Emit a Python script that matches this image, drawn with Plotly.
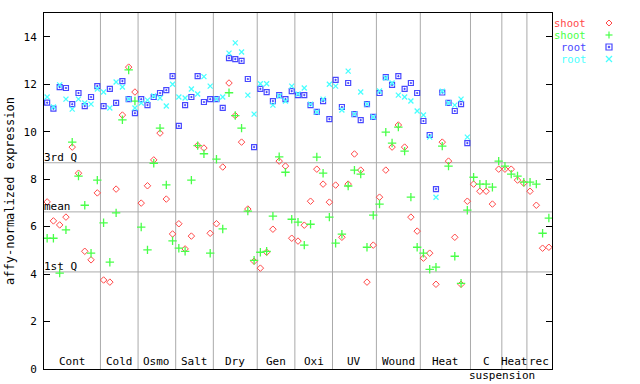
import plotly.graph_objects as go
import numpy as np

# ---------------- data ----------------
group_names = ["Cont", "Cold", "Osmo", "Salt", "Dry", "Gen", "Oxi", "UV",
               "Wound", "Heat", "C", "Heat", "rec"]
group_sizes = [9, 6, 6, 6, 7, 6, 6, 7, 7, 8, 5, 4, 4]
group_sublabel = {"C": "suspension"}

shoot_rep1 = [7.04, 6.24, 6.07, 6.40, 9.35, 8.25, 4.96, 4.60, 7.42,
              3.75, 3.66, 7.58, 10.70, 12.72, 11.67,
              6.99, 7.72, 8.81, 9.94, 7.16, 5.69,
              6.12, 5.06, 5.60, 9.42, 9.31, 5.72,
              6.12, 8.51, 12.05, 10.68, 9.56, 6.74, 4.54,
              4.25, 4.92, 5.89, 8.76, 8.55, 5.51,
              5.39, 6.06, 7.07, 8.42, 7.79, 7.03,
              7.75, 5.55, 7.79, 9.06, 8.38, 3.66, 5.22,
              7.24, 8.38, 9.35, 10.28, 9.35, 6.40, 5.81,
              4.67, 4.88, 3.57, 9.56, 8.76, 5.55, 3.57, 7.07,
              7.79, 7.49, 7.49, 6.95, 8.42,
              8.42, 8.42, 7.96, 7.83,
              7.49, 6.90, 5.09, 5.13]

shoot_rep2 = [5.51, 5.51, 4.04, 5.86, 9.56, 8.13, 6.90, 4.88, 7.96,
              6.16, 4.50, 6.58, 10.50, 12.60, 11.29,
              5.98, 5.02, 8.67, 10.15, 7.76, 5.40,
              5.09, 4.96, 7.96, 9.41, 9.07, 4.88,
              8.84, 5.90, 11.64, 10.68, 10.15, 6.65, 4.58,
              4.92, 4.96, 6.44, 8.94, 8.29, 6.31,
              6.19, 5.22, 6.10, 8.93, 8.25, 6.40,
              5.30, 5.68, 7.71, 8.38, 8.21, 5.13, 6.48,
              6.95, 9.98, 9.52, 10.19, 9.18, 7.24, 5.13,
              4.88, 4.20, 4.29, 9.39, 8.55, 4.75, 3.61, 6.69,
              8.08, 7.79, 7.79, 7.66, 8.76,
              8.55, 8.21, 8.13, 7.87,
              7.87, 7.79, 5.72, 6.36]

root_rep1 = [11.22, 10.97, 11.88, 11.84, 11.16, 11.63, 11.08, 11.46, 11.92,
             11.08, 11.80, 11.21, 12.13, 11.37, 10.78,
             11.37, 11.12, 11.46, 11.63, 11.75, 12.34,
             10.24, 11.12, 11.46, 12.34, 11.25, 11.37,
             11.37, 11.00, 13.10, 13.06, 12.98, 12.22, 9.35,
             11.80, 11.67, 11.29, 11.54, 11.37, 11.71,
             11.54, 11.54, 11.12, 10.83, 11.29, 10.53,
             12.18, 11.04, 12.05, 10.74, 10.49, 11.16, 10.62,
             11.63, 12.30, 11.97, 12.34, 11.80, 12.05, 11.63,
             10.45, 9.86, 7.58, 11.65, 11.21, 10.87, 11.16, 9.52,
             None, None, None, None, None,
             None, None, None, None,
             None, None, None, None]

root_rep2 = [11.46, 11.04, 11.97, 11.37, 10.95, 11.37, 11.21, 11.16, 11.80,
             11.67, 11.00, 12.09, 11.88, 11.37, 11.00,
             11.21, 11.33, 11.50, 11.42, 11.08, 12.00,
             11.46, 11.42, 11.80, 11.59, 12.32, 11.92,
             11.37, 11.46, 13.31, 13.74, 13.36, 11.54, 10.74,
             12.02, 12.02, 11.12, 11.50, 11.29, 11.92,
             11.59, 11.84, 11.16, 10.83, 11.37, 12.00,
             11.92, 10.91, 12.55, 10.74, 11.67, 11.16, 10.62,
             11.71, 12.26, 12.05, 11.54, 11.46, 11.29, 10.87,
             10.70, 9.77, 7.24, 11.70, 11.21, 11.12, 11.37, 9.77,
             None, None, None, None, None,
             None, None, None, None,
             None, None, None, None]

stat_names = ["3rd Q", "mean", "1st Q"]
stat_values = [8.69, 6.62, 4.09]

y_ticks = [0, 2, 4, 6, 8, 10, 12, 14]

# ---------------- styling ----------------
W, H = 640, 384
ML, MR, MT, MB = 44, 88, 13, 15
FONT = "DejaVu Sans Mono"
FS = 11
RED, GREEN, BLUE, CYAN = "#ff4848", "#48ff48", "#4848ff", "#48ffff"
GRID = "#aaaaaa"

series = [
    ("shoot", shoot_rep1, RED, "diamond-open", 5, 1),
    ("shoot", shoot_rep2, GREEN, "cross-thin-open", 6, 1.3),
    ("root", root_rep1, BLUE, "square-open-dot", 5, 1.2),
    ("root", root_rep2, CYAN, "x-thin-open", 5, 1.3),
]

n = len(shoot_rep1)
xs = list(range(n))

fig = go.Figure()

for name, vals, col, sym, size, lw in series:
    fig.add_trace(go.Scatter(
        x=xs, y=vals, mode="markers", name=name, showlegend=False,
        marker=dict(symbol=sym, size=size, color=col,
                    line=dict(color=col, width=lw)),
        cliponaxis=False,
    ))

# group separators and stat lines
bounds = np.cumsum(group_sizes)
starts = np.concatenate([[0], bounds[:-1]])
shapes = []
for b in bounds[:-1]:
    shapes.append(dict(type="line", xref="x", yref="y", x0=b - 0.5, x1=b - 0.5,
                       y0=0, y1=15, line=dict(color=GRID, width=1), layer="below"))
for v in stat_values:
    shapes.append(dict(type="line", xref="paper", yref="y", x0=0, x1=1,
                       y0=v, y1=v, line=dict(color=GRID, width=1), layer="below"))

annotations = []
for nm, v in zip(stat_names, stat_values):
    annotations.append(dict(text=nm, xref="paper", yref="y", x=0, y=v,
                            xanchor="left", yanchor="bottom", showarrow=False,
                            yshift=-3, xshift=-2,
                            font=dict(family=FONT, size=FS, color="black")))
for nm, s, b in zip(group_names, starts, bounds):
    cx = (s + b - 1) / 2.0
    annotations.append(dict(text=nm, xref="x", yref="paper", x=cx, y=0,
                            xanchor="center", yanchor="bottom", showarrow=False,
                            yshift=-1,
                            font=dict(family=FONT, size=FS, color="black")))
    if nm in group_sublabel:
        annotations.append(dict(text=group_sublabel[nm], xref="x", yref="paper",
                                x=cx + 2.5, y=0, xanchor="center", yanchor="top",
                                showarrow=False, yshift=2,
                                font=dict(family=FONT, size=FS, color="black")))

# legend (manual): text right aligned, marker drawn as shapes to the right
pw = W - ML - MR
ph = H - MT - MB


def px(xp):
    return (xp - ML) / pw


def py(yp):
    return (H - MB - yp) / ph


leg_rows_px = [23, 35, 47, 59]
text_right_px = 587
mx = 609
for (name, vals, col, sym, size, lw), yr in zip(series, leg_rows_px):
    annotations.append(dict(text=name, xref="paper", yref="paper",
                            x=px(text_right_px), y=py(yr),
                            xanchor="right", yanchor="middle", showarrow=False,
                            borderpad=0,
                            font=dict(family=FONT, size=10.5, color=col)))
    ln = dict(color=col, width=1.2)
    if sym.startswith("diamond"):
        r = 3
        path = (f"M {px(mx)},{py(yr - r)} L {px(mx + r)},{py(yr)} "
                f"L {px(mx)},{py(yr + r)} L {px(mx - r)},{py(yr)} Z")
        shapes.append(dict(type="path", xref="paper", yref="paper", path=path,
                           line=dict(color=col, width=1)))
    elif sym.startswith("cross"):
        r = 3.5
        shapes.append(dict(type="line", xref="paper", yref="paper",
                           x0=px(mx - r), x1=px(mx + r), y0=py(yr), y1=py(yr), line=ln))
        shapes.append(dict(type="line", xref="paper", yref="paper",
                           x0=px(mx), x1=px(mx), y0=py(yr - r), y1=py(yr + r), line=ln))
    elif sym.startswith("square"):
        r = 3
        shapes.append(dict(type="rect", xref="paper", yref="paper",
                           x0=px(mx - r), x1=px(mx + r), y0=py(yr - r), y1=py(yr + r),
                           line=ln))
        shapes.append(dict(type="rect", xref="paper", yref="paper",
                           x0=px(mx - 0.7), x1=px(mx + 0.7), y0=py(yr - 0.7),
                           y1=py(yr + 0.7), line=dict(color=col, width=1),
                           fillcolor=col))
    else:
        r = 3
        shapes.append(dict(type="line", xref="paper", yref="paper",
                           x0=px(mx - r), x1=px(mx + r), y0=py(yr - r), y1=py(yr + r), line=ln))
        shapes.append(dict(type="line", xref="paper", yref="paper",
                           x0=px(mx - r), x1=px(mx + r), y0=py(yr + r), y1=py(yr - r), line=ln))

fig.update_layout(
    width=W, height=H,
    margin=dict(l=ML, r=MR, t=MT, b=MB, pad=0, autoexpand=False),
    paper_bgcolor="white", plot_bgcolor="white",
    font=dict(family=FONT, size=FS, color="black"),
    xaxis=dict(range=[-0.5, n - 0.5], showgrid=False, zeroline=False,
               showline=True, linecolor="black", linewidth=1, mirror=True,
               ticks="", showticklabels=False, automargin=False),
    yaxis=dict(range=[0, 15], tickvals=y_ticks, showgrid=False, zeroline=False,
               showline=True, linecolor="black", linewidth=1, mirror="ticks",
               ticks="inside", ticklen=6, tickcolor="black",
               ticklabelstandoff=4, automargin=False,
               tickfont=dict(family=FONT, size=FS, color="black"),
               title=dict(text="affy-normalized expression", standoff=6,
                          font=dict(family=FONT, size=12, color="black"))),
    shapes=shapes, annotations=annotations,
)

fig.write_html("out.html", config={"displayModeBar": False},
               post_script="document.body.style.margin='0';document.body.style.padding='0';")
